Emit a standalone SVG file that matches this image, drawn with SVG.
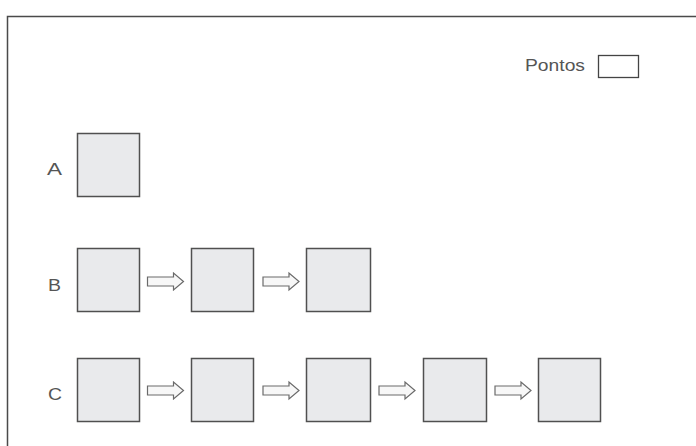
<svg xmlns="http://www.w3.org/2000/svg" width="696" height="446" viewBox="0 0 696 446">
<defs>
<style>
.frame{fill:none;stroke:#4a4a4a;stroke-width:1.5}
.box{fill:#e9eaec;stroke:#505050;stroke-width:1.5}
.arr{fill:#f7f7f7;stroke:#6a6a6a;stroke-width:1.2;stroke-linejoin:miter}
.lbl{font-family:"Liberation Sans",Arial,sans-serif;font-size:17px;fill:#555}
</style>
<path id="arrow" class="arr" d="M0,-4.5 H26 V-8.5 L36,0 L26,8.5 V4.5 H0 Z"/>
</defs>
<rect width="696" height="446" fill="#fff"/>
<rect class="frame" x="7.5" y="16.5" width="700" height="450"/>
<g id="pontos">
<text class="lbl" x="525" y="71" textLength="60" lengthAdjust="spacingAndGlyphs">Pontos</text>
<rect x="598.5" y="55.5" width="40" height="22" fill="#fff" stroke="#444" stroke-width="1.3"/>
</g>
<g id="rowA">
<text class="lbl" x="47" y="175" textLength="15" lengthAdjust="spacingAndGlyphs">A</text>
<rect id="A1" class="box" x="77.5" y="133.5" width="62" height="63"/>
</g>
<g id="rowB">
<text class="lbl" x="48" y="291" textLength="13" lengthAdjust="spacingAndGlyphs">B</text>
<rect id="B1" class="box" x="77.5" y="248.5" width="62" height="63"/>
<rect id="B2" class="box" x="191.5" y="248.5" width="62" height="63"/>
<rect id="B3" class="box" x="306.5" y="248.5" width="64" height="63"/>
</g>
<g id="rowC">
<text class="lbl" x="48" y="400" textLength="14" lengthAdjust="spacingAndGlyphs">C</text>
<rect id="C1" class="box" x="77.5" y="358.5" width="62" height="63"/>
<rect id="C2" class="box" x="191.5" y="358.5" width="62" height="63"/>
<rect id="C3" class="box" x="306.5" y="358.5" width="64" height="63"/>
<rect id="C4" class="box" x="423.5" y="358.5" width="63" height="63"/>
<rect id="C5" class="box" x="538.5" y="358.5" width="62" height="63"/>
</g>
<g id="connectors">
<use href="#arrow" x="147.5" y="281.5"/>
<use href="#arrow" x="263" y="281.5"/>
<use href="#arrow" x="147.5" y="390.5"/>
<use href="#arrow" x="263" y="390.5"/>
<use href="#arrow" x="379" y="390.5"/>
<use href="#arrow" x="495" y="390.5"/>
</g>
</svg>
